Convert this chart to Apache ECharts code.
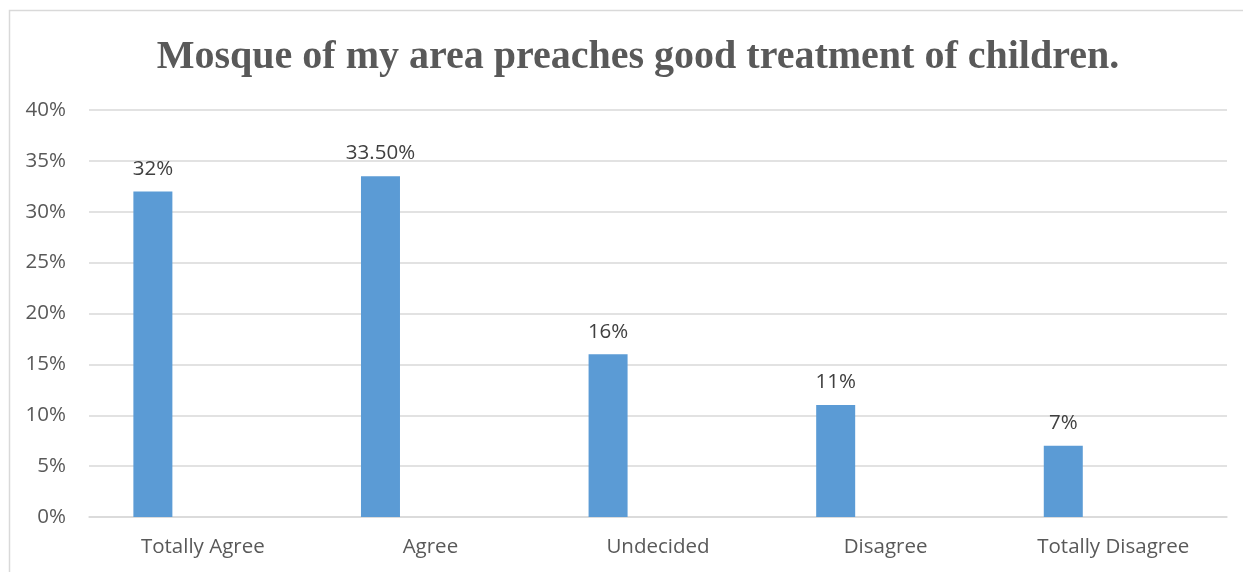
<!DOCTYPE html>
<html><head><meta charset="utf-8">
<script src="https://cdn.jsdelivr.net/npm/echarts@6/dist/echarts.min.js"></script>
<style>html,body{margin:0;padding:0;background:#fff}#c{width:1243px;height:572px}</style>
</head><body><div id="c"></div>
<script>
const categories = ["Totally Agree", "Agree", "Undecided", "Disagree", "Totally Disagree"];
const values = [32, 33.5, 16, 11, 7];
const valueLabels = ["32%", "33.50%", "16%", "11%", "7%"];
const emptySeries = [null, null, null, null, null];
const titleText = "Mosque of my area preaches good treatment of children.";

const FONT = '"Open Sans", "Liberation Sans", Arial, sans-serif';
const chart = echarts.init(document.getElementById('c'), null, {renderer: 'canvas'});
chart.setOption({
  animation: false,
  backgroundColor: '#fff',
  graphic: [
    {type: 'rect', shape: {x: 9.5, y: 10.5, width: 1300, height: 600}, style: {fill: 'none', stroke: '#d9d9d9', lineWidth: 1.5}, silent: true},
    {type: 'text', x: 638, y: 58, style: {text: titleText, fill: '#595959', font: 'bold 40px "Liberation Serif", "Times New Roman", serif', textAlign: 'center', textVerticalAlign: 'middle'}}
  ],
  grid: {left: 89, right: 16, top: 110, bottom: 55, containLabel: false},
  xAxis: {
    type: 'category', data: categories,
    axisLine: {lineStyle: {color: '#d9d9d9', width: 1.5}},
    axisTick: {show: false},
    axisLabel: {color: '#595959', fontSize: 20.5, fontFamily: FONT, margin: 20}
  },
  yAxis: {
    type: 'value', min: 0, max: 40, interval: 5,
    axisLine: {show: false}, axisTick: {show: false},
    splitLine: {lineStyle: {color: '#d9d9d9', width: 1.5}},
    axisLabel: {color: '#595959', fontSize: 20.5, fontFamily: FONT, margin: 23, formatter: '{value}%'}
  },
  series: [
    {type: 'bar', data: values, barWidth: 39, barGap: '156%', itemStyle: {color: '#5b9bd5'},
     label: {show: true, position: 'top', distance: 12, color: '#404040', fontSize: 20.5, fontFamily: FONT,
       formatter: p => valueLabels[p.dataIndex]}},
    {type: 'bar', data: emptySeries, barWidth: 39, itemStyle: {color: '#ed7d31'}}
  ]
});
</script></body></html>
